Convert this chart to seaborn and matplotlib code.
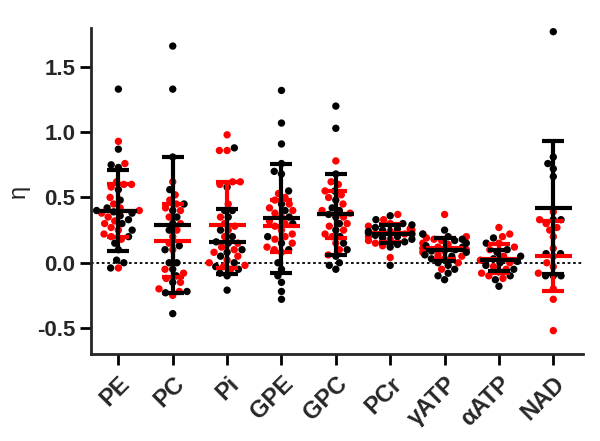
import pandas as pd
import numpy as np
import matplotlib
matplotlib.use('Agg')
import matplotlib.pyplot as plt
import seaborn as sns

# metabolites on the x axis
metabolites = ['PE', 'PC', 'Pi', 'GPE', 'GPC', 'PCr', 'γATP', 'αATP', 'NAD']

# eta values, black group
black_vals = {
    'PE': [1.33, 0.87, 0.75, 0.73, 0.56, 0.48, 0.42, 0.40, 0.39, 0.38, 0.36, 0.33,
           0.30, 0.25, 0.20, 0.15, 0.10, 0.02, 0.00, -0.04],
    'PC': [1.66, 1.33, 0.81, 0.56, 0.45, 0.40, 0.35, 0.30, 0.25, 0.13, 0.10, 0.00,
           0.00, -0.05, -0.10, -0.15, -0.22, -0.23, -0.39],
    'Pi': [0.88, 0.58, 0.40, 0.40, 0.35, 0.25, 0.20, 0.16, 0.15, 0.10, 0.08, 0.05,
           0.00, -0.03, -0.05, -0.08, -0.10, -0.21],
    'GPE': [1.32, 1.07, 0.91, 0.76, 0.70, 0.68, 0.55, 0.45, 0.40, 0.35, 0.30, 0.20,
            0.15, 0.10, 0.00, -0.05, -0.10, -0.15, -0.22, -0.28],
    'GPC': [1.20, 1.03, 0.68, 0.55, 0.48, 0.42, 0.40, 0.37, 0.35, 0.30, 0.25, 0.20,
            0.15, 0.10, 0.05, 0.00, -0.02, -0.05],
    'PCr': [0.36, 0.33, 0.30, 0.29, 0.27, 0.26, 0.25, 0.24, 0.23, 0.22, 0.21, 0.20,
            0.19, 0.18, 0.16, 0.14, 0.12, -0.02],
    'γATP': [0.25, 0.22, 0.20, 0.18, 0.17, 0.15, 0.13, 0.12, 0.10, 0.09, 0.08, 0.06,
             0.05, 0.03, 0.00, -0.02, -0.05, -0.08, -0.10, -0.13],
    'αATP': [0.19, 0.15, 0.10, 0.08, 0.05, 0.03, 0.01, 0.00, -0.02, -0.05, -0.07,
             -0.10, -0.13, -0.18],
    'NAD': [1.77, 0.81, 0.76, 0.72, 0.66, 0.33, 0.33, 0.07, 0.07, -0.10, -0.10, -0.10],
}

# eta values, red group
red_vals = {
    'PE': [0.93, 0.76, 0.62, 0.60, 0.60, 0.58, 0.50, 0.45, 0.42, 0.40, 0.38, 0.35,
           0.32, 0.30, 0.27, 0.25, 0.22, 0.20, 0.18, -0.04],
    'PC': [0.62, 0.52, 0.48, 0.45, 0.42, 0.40, 0.35, 0.30, 0.25, 0.20, 0.15, 0.10,
           -0.05, -0.08, -0.12, -0.15, -0.20, -0.22, -0.25],
    'Pi': [0.98, 0.86, 0.86, 0.62, 0.62, 0.60, 0.45, 0.35, 0.30, 0.28, 0.25, 0.20,
           0.15, 0.12, 0.10, 0.08, 0.05, 0.02, 0.00, -0.02, -0.03, -0.05],
    'GPE': [0.53, 0.50, 0.48, 0.45, 0.42, 0.40, 0.38, 0.35, 0.32, 0.30, 0.28, 0.25,
            0.22, 0.20, 0.18, 0.15, 0.12, 0.10, 0.08],
    'GPC': [0.78, 0.62, 0.60, 0.55, 0.52, 0.50, 0.45, 0.40, 0.38, 0.35, 0.30, 0.28,
            0.25, 0.22, 0.20, 0.15, 0.10, 0.06],
    'PCr': [0.37, 0.33, 0.30, 0.28, 0.26, 0.25, 0.24, 0.22, 0.20, 0.18, 0.17, 0.15,
            0.13, 0.04],
    'γATP': [0.37, 0.22, 0.20, 0.19, 0.18, 0.17, 0.15, 0.14, 0.12, 0.11, 0.10, 0.09,
             0.08, 0.06, 0.05, 0.03, 0.00, -0.05],
    'αATP': [0.27, 0.22, 0.20, 0.15, 0.12, 0.10, 0.05, 0.02, 0.00, -0.03, -0.05,
             -0.08, -0.10, -0.12],
    'NAD': [0.39, 0.33, 0.30, 0.27, 0.25, 0.20, 0.11, 0.05, 0.00, -0.03, -0.08,
            -0.20, -0.28, -0.52],
}

# mean and SD bars
black_mean = [0.40, 0.29, 0.16, 0.34, 0.37, 0.22, 0.10, 0.02, 0.42]
black_sd = [0.31, 0.52, 0.25, 0.42, 0.31, 0.07, 0.09, 0.08, 0.51]
red_mean = [0.40, 0.17, 0.29, 0.28, 0.37, 0.23, 0.11, 0.03, 0.05]
red_sd = [0.20, 0.28, 0.33, 0.20, 0.18, 0.07, 0.08, 0.11, 0.27]

rows = []
for m in metabolites:
    for v in red_vals[m]:
        rows.append((m, v, 'red'))
    for v in black_vals[m]:
        rows.append((m, v, 'black'))
df = pd.DataFrame(rows, columns=['metabolite', 'eta', 'group'])

sns.set_style('ticks')
plt.rcParams['font.family'] = ['Liberation Sans', 'DejaVu Sans']

fig = plt.figure(figsize=(6, 4.41), dpi=100)
ax = fig.add_axes([0.152, 0.197, 0.82, 0.74])

ax.axhline(0, color='black', linestyle=(0, (1.5, 1.5)), linewidth=1.3, zorder=1)

sns.swarmplot(x='metabolite', y='eta', hue='group', data=df, order=metabolites,
              palette={'red': '#ff0000', 'black': 'black'}, size=5.3,
              legend=False, ax=ax, zorder=2)

# mean +/- SD bars, red first then black on top
for mean, sd, col in [(red_mean, red_sd, '#ff0000'), (black_mean, black_sd, 'black')]:
    xs = np.arange(len(metabolites))
    ax.errorbar(xs, mean, yerr=sd, fmt='none', ecolor=col, elinewidth=3,
                capsize=8, capthick=3, zorder=3)
    ax.hlines(mean, xs - 0.34, xs + 0.34, color=col, linewidth=3, zorder=3)

ax.set_xlim(-0.5, 8.55)
ax.set_ylim(-0.7, 1.8)
ax.set_yticks([-0.5, 0.0, 0.5, 1.0, 1.5])
ax.set_yticklabels(['-0.5', '0.0', '0.5', '1.0', '1.5'], fontsize=16, fontweight='bold')
ax.set_xticks(range(len(metabolites)))
ax.set_xticklabels(metabolites, fontsize=17, fontweight='bold', rotation=45,
                   ha='right', rotation_mode='anchor')
ax.set_xlabel('')
ax.set_ylabel('η', fontsize=17, labelpad=5)

for s in ['left', 'bottom']:
    ax.spines[s].set_linewidth(2)
sns.despine(ax=ax)
ax.tick_params(axis='both', width=2, length=8, color='black')
ax.tick_params(axis='x', pad=5)

fig.savefig('out.png', dpi=100)
